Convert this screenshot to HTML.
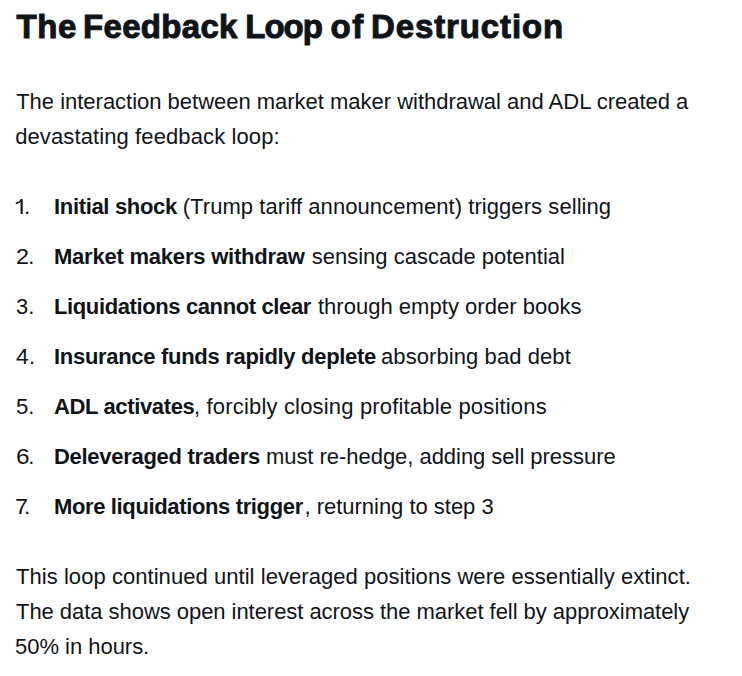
<!DOCTYPE html>
<html>
<head>
<meta charset="utf-8">
<style>
html, body { margin: 0; padding: 0; background: #ffffff; }
body { width: 742px; height: 676px; overflow: hidden; position: relative; font-family: "Liberation Sans", sans-serif; color: #0f1419; }
div { position: absolute; white-space: nowrap; }
</style>
</head>
<body>
<div style='left:16.50px;top:7.00px;font-size:33px;line-height:40px;font-weight:700;letter-spacing:0.550px;-webkit-text-stroke:1.0px #0f1419;'>The</div>
<div style='left:83.00px;top:7.00px;font-size:33px;line-height:40px;font-weight:700;letter-spacing:0.314px;-webkit-text-stroke:1.0px #0f1419;'>Feedback</div>
<div style='left:245.30px;top:7.00px;font-size:33px;line-height:40px;font-weight:700;letter-spacing:-1.000px;-webkit-text-stroke:1.0px #0f1419;'>Loop</div>
<div style='left:330.50px;top:7.00px;font-size:33px;line-height:40px;font-weight:700;letter-spacing:1.500px;-webkit-text-stroke:1.0px #0f1419;'>of</div>
<div style='left:371.00px;top:7.00px;font-size:33px;line-height:40px;font-weight:700;letter-spacing:0.880px;-webkit-text-stroke:1.0px #0f1419;'>Destruction</div>
<div style='left:16.20px;top:89.00px;font-size:22px;line-height:26px;font-weight:400;letter-spacing:-0.014px;'>The interaction between market maker withdrawal and ADL created a</div>
<div style='left:15.20px;top:124.00px;font-size:22px;line-height:26px;font-weight:400;letter-spacing:0.108px;'>devastating feedback loop:</div>
<div style='left:24.05px;top:194.00px;font-size:22px;line-height:26px;font-weight:400;'>.</div>
<div style='left:54.00px;top:194.00px;font-size:22px;line-height:26px;font-weight:700;letter-spacing:-0.333px;'>Initial shock</div>
<div style='left:182.70px;top:194.00px;font-size:22px;line-height:26px;font-weight:400;letter-spacing:0.067px;'>(Trump tariff announcement) triggers selling</div>
<div style='left:15.50px;top:244.00px;font-size:22px;line-height:26px;font-weight:400;transform:scaleX(1.0600);transform-origin:1px 0;'>2</div>
<div style='left:28.30px;top:244.00px;font-size:22px;line-height:26px;font-weight:400;'>.</div>
<div style='left:54.00px;top:244.00px;font-size:22px;line-height:26px;font-weight:700;letter-spacing:-0.219px;'>Market makers withdraw</div>
<div style='left:311.70px;top:244.00px;font-size:22px;line-height:26px;font-weight:400;letter-spacing:0.004px;'>sensing cascade potential</div>
<div style='left:15.50px;top:294.00px;font-size:22px;line-height:26px;font-weight:400;transform:scaleX(0.9909);transform-origin:1px 0;'>3</div>
<div style='left:28.25px;top:294.00px;font-size:22px;line-height:26px;font-weight:400;'>.</div>
<div style='left:54.00px;top:294.00px;font-size:22px;line-height:26px;font-weight:700;letter-spacing:-0.383px;'>Liquidations cannot clear</div>
<div style='left:317.90px;top:294.00px;font-size:22px;line-height:26px;font-weight:400;letter-spacing:0.029px;'>through empty order books</div>
<div style='left:16.20px;top:344.00px;font-size:22px;line-height:26px;font-weight:400;transform:scaleX(1.0333);transform-origin:0px 0;'>4</div>
<div style='left:29.10px;top:344.00px;font-size:22px;line-height:26px;font-weight:400;'>.</div>
<div style='left:54.00px;top:344.00px;font-size:22px;line-height:26px;font-weight:700;letter-spacing:-0.300px;'>Insurance funds rapidly deplete</div>
<div style='left:381.00px;top:344.00px;font-size:22px;line-height:26px;font-weight:400;letter-spacing:0.082px;'>absorbing bad debt</div>
<div style='left:15.70px;top:394.00px;font-size:22px;line-height:26px;font-weight:400;transform:scaleX(1.0091);transform-origin:1px 0;'>5</div>
<div style='left:28.35px;top:394.00px;font-size:22px;line-height:26px;font-weight:400;'>.</div>
<div style='left:54.00px;top:394.00px;font-size:22px;line-height:26px;font-weight:700;letter-spacing:-0.358px;'>ADL activates</div>
<div style='left:194.00px;top:394.00px;font-size:22px;line-height:26px;font-weight:400;letter-spacing:0.174px;'>, forcibly closing profitable positions</div>
<div style='left:15.70px;top:444.00px;font-size:22px;line-height:26px;font-weight:400;transform:scaleX(1.1100);transform-origin:1px 0;'>6</div>
<div style='left:28.35px;top:444.00px;font-size:22px;line-height:26px;font-weight:400;'>.</div>
<div style='left:54.00px;top:444.00px;font-size:22px;line-height:26px;font-weight:700;letter-spacing:-0.294px;'>Deleveraged traders</div>
<div style='left:265.90px;top:444.00px;font-size:22px;line-height:26px;font-weight:400;letter-spacing:-0.035px;'>must re-hedge, adding sell pressure</div>
<div style='left:15.00px;top:494.00px;font-size:22px;line-height:26px;font-weight:400;transform:scaleX(1.0700);transform-origin:1px 0;'>7</div>
<div style='left:23.95px;top:494.00px;font-size:22px;line-height:26px;font-weight:400;'>.</div>
<div style='left:54.00px;top:494.00px;font-size:22px;line-height:26px;font-weight:700;letter-spacing:-0.362px;'>More liquidations trigger</div>
<div style='left:304.50px;top:494.00px;font-size:22px;line-height:26px;font-weight:400;letter-spacing:-0.020px;'>, returning to step 3</div>
<div style='left:16.00px;top:564.00px;font-size:22px;line-height:26px;font-weight:400;letter-spacing:0.051px;'>This loop continued until leveraged positions were essentially extinct.</div>
<div style='left:16.00px;top:599.00px;font-size:22px;line-height:26px;font-weight:400;letter-spacing:-0.045px;'>The data shows open interest across the market fell by approximately</div>
<div style='left:15.00px;top:634.00px;font-size:22px;line-height:26px;font-weight:400;letter-spacing:-0.025px;'>50% in hours.</div>
<svg style="position:absolute;left:0;top:0" width="40" height="230" viewBox="0 0 40 230"><g fill="none" stroke="#0f1419"><path d="M21.65 199.2V214" stroke-width="2.1"/><path d="M21.3 199.8C20.3 201.6 18.8 202.7 16.4 203.3" stroke-width="1.45" stroke-linecap="round"/></g></svg>
</body>
</html>
